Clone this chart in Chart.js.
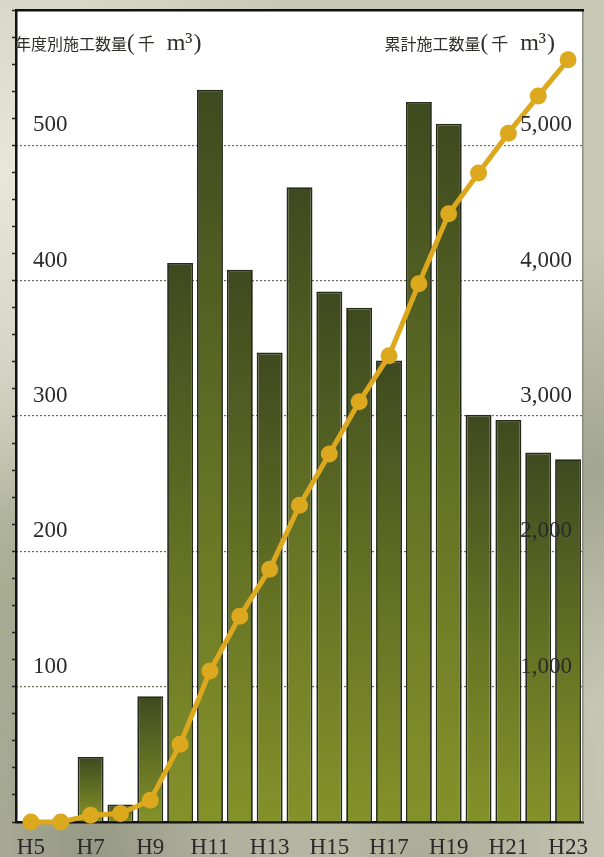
<!DOCTYPE html>
<html>
<head>
<meta charset="utf-8">
<script src="https://cdn.jsdelivr.net/npm/chart.js@4"></script>
<style>
  html, body { margin: 0; padding: 0; }
  body {
    width: 604px; height: 857px; overflow: hidden;
    background:
      radial-gradient(ellipse at 3% 20%, rgba(235,235,222,0.9), transparent 35%),
      radial-gradient(ellipse at 4% 70%, rgba(150,158,125,0.55), transparent 30%),
      radial-gradient(ellipse at 99% 55%, rgba(130,136,110,0.55), transparent 35%),
      radial-gradient(ellipse at 15% 100%, rgba(115,120,98,0.6), transparent 35%),
      radial-gradient(ellipse at 70% 100%, rgba(140,145,120,0.5), transparent 35%),
      #c8c8b6;
  }
  #wrap { position: relative; width: 604px; height: 857px; }
</style>
</head>
<body>
<div id="wrap"><canvas id="c"></canvas></div>
<script>
const categories = ['H5','H6','H7','H8','H9','H10','H11','H12','H13','H14','H15','H16','H17','H18','H19','H20','H21','H22','H23'];
const annualVolume = [0, 0, 48, 13, 93, 413, 541, 408, 347, 469, 392, 380, 341, 532, 516, 301, 297, 273, 268];
const cumulativeVolume = [0, 0, 50, 62, 160, 575, 1115, 1520, 1868, 2340, 2720, 3105, 3445, 3978, 4495, 4795, 5090, 5365, 5632];
const leftTitle = ['年度別施工数量', '(', '千', ' m', '³', ')'];
const rightTitle = ['累計施工数量', '(', '千', ' m', '³', ')'];

const numFont = { family: '"Liberation Serif", "DejaVu Serif", serif', size: 23 };
const cjk16 = '16px "Noto Sans CJK JP", sans-serif';
const cjk17 = '17px "Noto Sans CJK JP", sans-serif';
const lat23 = '23px "Liberation Serif", serif';
const lat24 = '24px "Liberation Serif", serif';
const segStyle = [
  { font: cjk16, gap: 0 },
  { font: lat23, gap: 3 },
  { font: cjk17, gap: 6 },
  { font: lat24, gap: 0 },
  { font: lat24, gap: 1 },
  { font: lat24, gap: 0 }
];

function drawSegments(ctx, parts, x, y, align) {
  const widths = parts.map((p, i) => { ctx.font = segStyle[i].font; return ctx.measureText(p).width + segStyle[i].gap; });
  const total = widths.reduce((a, b) => a + b, 0);
  let cx = align === 'right' ? x - total : x;
  ctx.textAlign = 'left';
  ctx.textBaseline = 'middle';
  parts.forEach((p, i) => { ctx.font = segStyle[i].font; ctx.fillText(p, cx, y); cx += widths[i]; });
}

const plotBg = {
  id: 'plotBg',
  beforeDraw(chart) {
    const { ctx, chartArea: a } = chart;
    ctx.save();
    ctx.fillStyle = '#ffffff';
    ctx.fillRect(a.left, a.top, a.right - a.left, a.bottom - a.top);
    ctx.restore();
  },
  afterDraw(chart) {
    const { ctx, chartArea: a } = chart;
    ctx.save();
    ctx.fillStyle = '#2e2e2a';
    drawSegments(ctx, leftTitle, a.left - 1, 44, 'left');
    drawSegments(ctx, rightTitle, a.right - 28, 44, 'right');
    ctx.restore();
  }
};

function noPad(s) { s.paddingTop = 0; s.paddingBottom = 0; s.paddingLeft = 0; s.paddingRight = 0; }

new Chart(document.getElementById('c'), {
  type: 'bar',
  data: {
    labels: categories,
    datasets: [
      {
        type: 'line',
        label: '累計施工数量',
        data: cumulativeVolume,
        yAxisID: 'y2',
        order: 0,
        borderColor: '#dca81e',
        backgroundColor: '#dca81e',
        borderWidth: 5,
        pointRadius: 8.5,
        pointBorderWidth: 0,
        pointBackgroundColor: '#dca81e',
        tension: 0,
        clip: false
      },
      {
        type: 'bar',
        label: '年度別施工数量',
        data: annualVolume,
        yAxisID: 'y',
        order: 1,
        barPercentage: 0.87,
        categoryPercentage: 1.0,
        borderColor: '#262a1a',
        borderWidth: 1.8,
        borderSkipped: 'bottom',
        backgroundColor(ctx) {
          const chart = ctx.chart;
          if (!chart.chartArea || ctx.type !== 'data') return '#5d6a22';
          const ys = chart.scales.y;
          const top = ys.getPixelForValue(ctx.raw);
          const bottom = ys.getPixelForValue(0);
          if (!isFinite(top) || bottom - top < 1) return '#5d6a22';
          const g = chart.ctx.createLinearGradient(0, top, 0, bottom);
          g.addColorStop(0, '#3e4a1f');
          g.addColorStop(0.5, '#627024');
          g.addColorStop(1, '#85922a');
          return g;
        }
      }
    ]
  },
  options: {
    responsive: true,
    maintainAspectRatio: false,
    animation: false,
    layout: { padding: { top: 10, left: 0, right: 0, bottom: 0 } },
    plugins: { legend: { display: false }, tooltip: { enabled: false } },
    scales: {
      x: {
        position: 'bottom',
        grid: { display: false, drawTicks: false },
        border: { display: true, color: '#111', width: 2.5 },
        ticks: {
          autoSkip: false,
          maxRotation: 0,
          padding: 12,
          color: '#2a2a2a',
          font: numFont,
          callback(v, i) { return i % 2 === 0 ? categories[i] : ''; }
        },
        afterFit(s) { s.height = 35; noPad(s); }
      },
      y: {
        position: 'left',
        min: 0, max: 600,
        grid: {
          drawOnChartArea: false,
          drawTicks: true,
          tickLength: 4,
          tickColor: '#222',
          tickWidth: 1.5,
          color: 'transparent'
        },
        border: { display: true, color: '#111', width: 2.5 },
        ticks: {
          z: 1,
          stepSize: 20,
          mirror: true,
          padding: 17,
          labelOffset: -20,
          color: '#2a2a2a',
          font: numFont,
          autoSkip: false,
          callback(v) { return (v > 0 && v < 600 && v % 100 === 0) ? String(v) : ''; }
        },
        afterFit(s) { s.width = 16; noPad(s); }
      },
      y2: {
        position: 'right',
        min: 0, max: 6000,
        grid: {
          drawOnChartArea: true,
          drawTicks: false,
          color(ctx) { return (ctx.tick && ctx.tick.value > 0 && ctx.tick.value < 6000) ? '#6e6b52' : 'transparent'; },
          lineWidth: 1.2
        },
        border: { display: true, color: '#8a8a80', width: 1.5, dash: [2, 2] },
        ticks: {
          z: 1,
          stepSize: 1000,
          mirror: true,
          padding: -11,
          labelOffset: -20,
          color: '#2a2a2a',
          font: numFont,
          callback(v) { return (v > 0 && v < 6000) ? v.toLocaleString('en-US') : ''; }
        },
        afterFit(s) { s.width = 21; noPad(s); }
      },
      xTop: {
        type: 'category',
        labels: categories,
        position: 'top',
        grid: { display: false, drawTicks: false },
        border: { display: true, color: '#111', width: 2.5 },
        ticks: { display: false },
        afterFit(s) { s.height = 0; noPad(s); }
      }
    }
  },
  plugins: [plotBg]
});
</script>
</body>
</html>
